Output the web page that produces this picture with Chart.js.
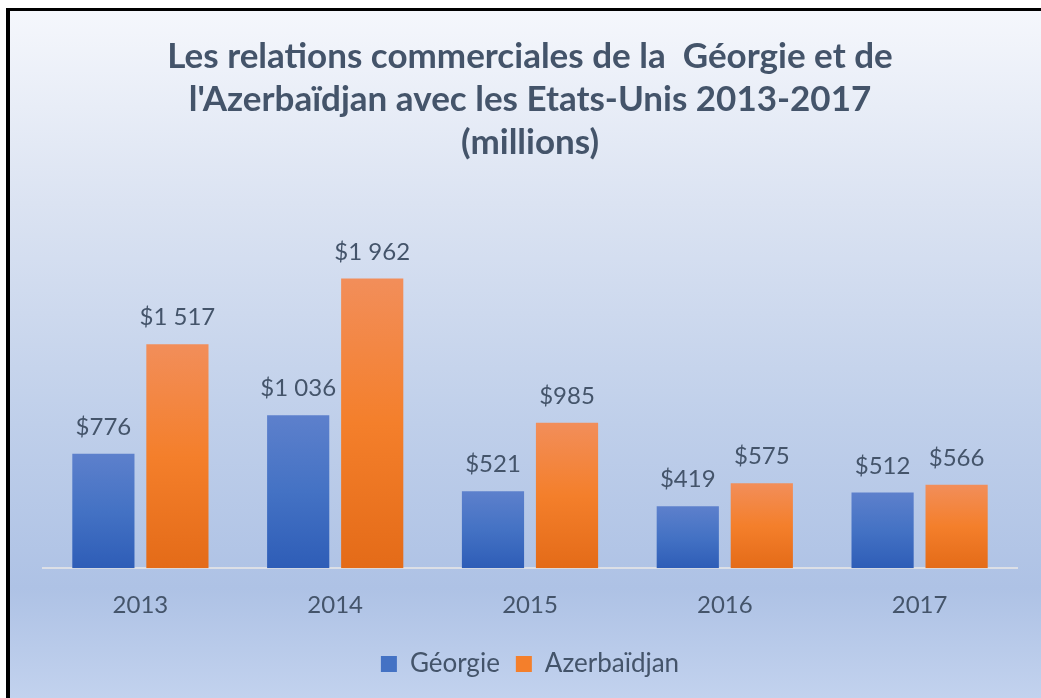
<!DOCTYPE html>
<html lang="fr">
<head>
<meta charset="utf-8">
<title>Géorgie et Azerbaïdjan - Etats-Unis 2013-2017</title>
<script src="https://cdn.jsdelivr.net/npm/chart.js@4/dist/chart.umd.min.js"></script>
<style>
  html, body { margin: 0; padding: 0; background: #fff; }
  body { width: 1041px; height: 698px; position: relative; overflow: hidden; }
  .frame {
    position: absolute; left: 6px; top: 8px; right: 0; bottom: 0;
    border-top: 3px solid #000; border-left: 4px solid #000;
  }
  .chart-box {
    position: absolute; left: 10px; top: 11px; width: 1031px; height: 687px;
    background: linear-gradient(to bottom, #f5f7fc 0%, #dbe3f2 28%, #bfcfea 60%, #aec2e5 84%, #c2d2ee 100%);
  }
</style>
</head>
<body>
<div class="frame"></div>
<div class="chart-box"><canvas id="tradeChart" width="1031" height="687"></canvas></div>
<script>
// Chart data
const years = ['2013', '2014', '2015', '2016', '2017'];
const georgie = [776, 1036, 521, 419, 512];
const azerbaidjan = [1517, 1962, 985, 575, 566];
const seriesNames = ['Géorgie', 'Azerbaïdjan'];
const titleLines = [
    'Les relations commerciales de la  Géorgie et de',
    "l'Azerbaïdjan avec les Etats-Unis 2013-2017",
    '(millions)'
];

const textColor = '#44546A';
const blueStops = ['#5d80cc', '#4472c4', '#2e5db7'];
const orangeStops = ['#f28e5a', '#f47f2b', '#e46b18'];

// vertical gradient for each bar, from its top down to the baseline
function barGradient(stops) {
    return (ctx) => {
        const chart = ctx.chart;
        if (!chart.chartArea || ctx.type !== 'data') return stops[1];
        const y = chart.scales.y;
        const top = y.getPixelForValue(ctx.parsed.y);
        const bottom = y.getPixelForValue(0);
        const g = chart.ctx.createLinearGradient(0, top, 0, bottom);
        g.addColorStop(0, stops[0]);
        g.addColorStop(0.5, stops[1]);
        g.addColorStop(1, stops[2]);
        return g;
    };
}

function money(v) {
    return '$' + String(v).replace(/\B(?=(\d{3})+(?!\d))/g, ' ');
}

// value labels above bars
const valueLabels = {
    id: 'valueLabels',
    afterDatasetsDraw(chart) {
        const ctx = chart.ctx;
        ctx.save();
        ctx.font = '24px Lato';
        ctx.fillStyle = textColor;
        ctx.textAlign = 'center';
        ctx.textBaseline = 'alphabetic';
        chart.data.datasets.forEach((ds, i) => {
            chart.getDatasetMeta(i).data.forEach((bar, j) => {
                ctx.fillText(money(ds.data[j]), bar.x, bar.y - 19);
            });
        });
        ctx.restore();
    }
};

const canvas = document.getElementById('tradeChart');
new Chart(canvas.getContext('2d'), {
    type: 'bar',
    data: {
        labels: years,
        datasets: [
            { label: seriesNames[0], data: georgie, backgroundColor: barGradient(blueStops) },
            { label: seriesNames[1], data: azerbaidjan, backgroundColor: barGradient(orangeStops) }
        ]
    },
    options: {
        responsive: false,
        animation: false,
        categoryPercentage: 0.76,
        barPercentage: 0.84,
        layout: { padding: { left: 33, right: 24, top: 0, bottom: 11 } },
        plugins: {
            title: {
                display: true,
                text: titleLines,
                color: textColor,
                font: { family: 'Lato', size: 35, weight: 'bold', lineHeight: 1.23 },
                padding: { top: 24, bottom: 35 }
            },
            legend: {
                position: 'bottom',
                labels: {
                    color: textColor,
                    font: { family: 'Lato', size: 26 },
                    boxWidth: 16,
                    boxHeight: 16,
                    padding: 16,
                    generateLabels: () => [
                        { text: seriesNames[0], fillStyle: blueStops[1], strokeStyle: 'rgba(0,0,0,0)', lineWidth: 0, datasetIndex: 0, fontColor: textColor },
                        { text: seriesNames[1], fillStyle: orangeStops[1], strokeStyle: 'rgba(0,0,0,0)', lineWidth: 0, datasetIndex: 1, fontColor: textColor }
                    ]
                }
            },
            tooltip: { enabled: false }
        },
        scales: {
            x: {
                grid: { display: false },
                border: { display: true, color: '#dcdfe6', width: 2 },
                ticks: { color: textColor, font: { family: 'Lato', size: 24 }, padding: 15 }
            },
            y: {
                display: false,
                min: 0,
                max: 2500
            }
        }
    },
    plugins: [valueLabels]
});
</script>
</body>
</html>
